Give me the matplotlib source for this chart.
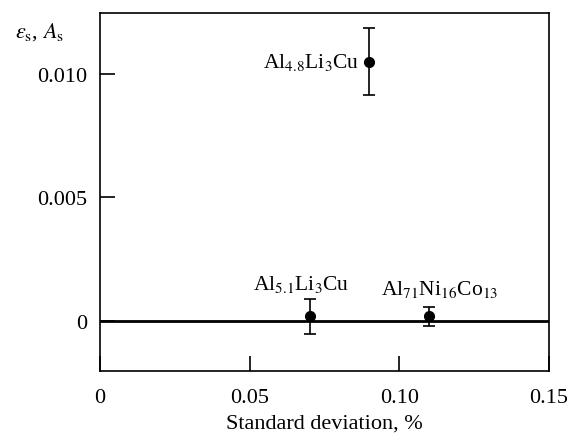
import numpy as np
import matplotlib.pyplot as plt

plt.rcParams['font.family'] = ['Liberation Serif', 'DejaVu Serif']
plt.rcParams['mathtext.fontset'] = 'stix'

# data
names = ['Al$_{4.8}$Li$_3$Cu', 'Al$_{5.1}$Li$_3$Cu', 'Al$_{71}$Ni$_{16}$Co$_{13}$']
std_dev = [0.09, 0.07, 0.11]
eps = [0.0105, 0.0002, 0.0002]
err_low = [0.00135, 0.00072, 0.00040]
err_high = [0.00135, 0.00070, 0.00038]

fs = 16

fig = plt.figure(figsize=(5.73, 4.35), dpi=100)
ax = fig.add_axes([100/573, 1-372/435, 449/573, 358/435])

ax.axhline(0, color='black', lw=2, zorder=1)
ax.errorbar(std_dev, eps, yerr=[err_low, err_high], fmt='o', color='black',
            ms=7, capsize=4, elinewidth=1.2, capthick=1.2, zorder=3)

# labels next to the points
ax.text(std_dev[0] - 0.0035, eps[0], names[0], ha='right', va='center', fontsize=15.5)
ax.text(std_dev[1] - 0.0027, 0.0011, names[1], ha='center', va='bottom', fontsize=15.5)
ax.text(std_dev[2] + 0.0033, 0.0009, names[2], ha='center', va='bottom', fontsize=15.5)

ax.set_xlim(0, 0.15)
ax.set_ylim(-0.00203, 0.01247)
ax.set_xticks([0, 0.05, 0.10, 0.15])
ax.set_xticklabels(['0', '0.05', '0.10', '0.15'])
ax.set_yticks([0, 0.005, 0.010])
ax.set_yticklabels(['0', '0.005', '0.010'])
ax.tick_params(direction='in', length=11, width=1.2, labelsize=fs)
ax.tick_params(axis='x', pad=12)
ax.tick_params(axis='y', pad=9)
for s in ax.spines.values():
    s.set_linewidth(1.2)

ax.set_xlabel('Standard deviation, %', fontsize=fs, labelpad=5)
fig.text(15/573, 1-32/435, r'$\varepsilon_{\rm s}$, $A_{\rm s}$', fontsize=fs, va='center', ha='left')

fig.savefig('out.png', dpi=100)
